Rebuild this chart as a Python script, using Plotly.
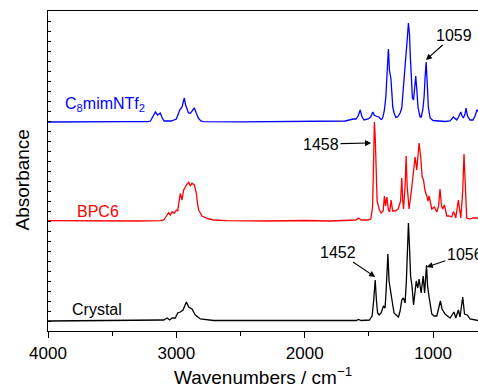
import plotly.graph_objects as go

# ---------------- data ----------------
series_names = ["Crystal", "BPC6", "C<sub>8</sub>mimNTf<sub>2</sub>"]
series_colors = ["#000000", "#ff0000", "#0000ff"]
offsets = [0.0, 1.00, 1.99]

wn_c8 = [4000, 3700, 3646, 3600, 3470, 3436, 3400, 3220, 3202, 3185, 3163, 3146, 3125, 3110, 3095,
         3040, 3000, 2974, 2956, 2946, 2938, 2928, 2905, 2891, 2875, 2860, 2845, 2829, 2810, 2790,
         2500, 2000, 1700, 1685, 1623, 1600, 1584, 1568, 1553, 1537, 1506, 1486, 1469, 1459, 1447,
         1436, 1422, 1409, 1400, 1391, 1379, 1368, 1360, 1348, 1340, 1329, 1321, 1314, 1304, 1290,
         1276, 1264, 1257, 1244, 1234, 1223, 1210, 1200, 1192, 1184, 1177, 1169, 1161, 1152, 1144,
         1135, 1127, 1117, 1101, 1093, 1080, 1070, 1062, 1054, 1044, 1037, 1023, 1000, 907, 868,
         842, 829, 816, 802, 784, 774, 764, 751, 743, 732, 712, 689, 673, 658, 634]
ab_c8 = [0, 0.002, 0.008, 0.002, 0.003, 0.008, 0.003, 0.003, 0.01, 0.05, 0.10, 0.07, 0.09, 0.04, 0.01,
         0.01, 0.03, 0.12, 0.15, 0.20, 0.24, 0.17, 0.09, 0.087, 0.11, 0.14, 0.09, 0.04, 0.01, 0.003,
         0.002, 0.003, 0.005, 0.01, 0.03, 0.03, 0.06, 0.12, 0.05, 0.02, 0.03, 0.05, 0.10, 0.07, 0.06,
         0.055, 0.05, 0.03, 0.025, 0.05, 0.12, 0.25, 0.45, 0.73, 0.52, 0.44, 0.29, 0.15, 0.09, 0.045,
         0.05, 0.08, 0.09, 0.14, 0.30, 0.45, 0.60, 0.85, 0.99, 0.88, 0.65, 0.40, 0.24, 0.22, 0.33,
         0.46, 0.33, 0.14, 0.05, 0.05, 0.12, 0.25, 0.45, 0.60, 0.35, 0.15, 0.04, 0.015, 0.005, 0.01,
         0.05, 0.03, 0.02, 0.05, 0.10, 0.06, 0.04, 0.08, 0.14, 0.06, 0.02, 0.02, 0.06, 0.12, 0.10]

wn_bpc6 = [4000, 3700, 3500, 3300, 3120, 3099, 3072, 3060, 3047, 3033, 3016, 3000, 2990, 2969, 2956,
           2943, 2922, 2904, 2891, 2878, 2860, 2844, 2834, 2826, 2800, 2761, 2710, 2605, 2300, 2000,
           1800, 1620, 1600, 1581, 1560, 1506, 1485, 1471, 1467, 1462, 1457, 1451, 1445, 1436, 1418,
           1405, 1389, 1379, 1370, 1360, 1348, 1338, 1327, 1315, 1296, 1272, 1253, 1244, 1236, 1230,
           1218, 1210, 1202, 1187, 1171, 1156, 1140, 1127, 1109, 1096, 1086, 1075, 1062, 1049, 1039,
           1031, 1019, 1010, 990, 971, 957, 946, 934, 925, 912, 893, 875, 855, 842, 834,
           823, 803, 784, 769, 759, 748, 738, 712, 689, 655, 634]
ab_bpc6 = [0.003, 0.0, 0.004, 0.0, 0.003, 0.01, 0.06, 0.083, 0.06, 0.093, 0.077, 0.11, 0.103, 0.277, 0.21,
           0.31, 0.36, 0.387, 0.35, 0.377, 0.36, 0.277, 0.16, 0.11, 0.05, 0.027, 0.01, 0.003, 0.0, 0.005,
           0.0, 0.005, 0.01, 0.03, 0.01, 0.01, 0.02, 0.15, 0.40, 0.80, 0.99, 0.85, 0.45, 0.20, 0.11,
           0.08, 0.10, 0.25, 0.15, 0.24, 0.11, 0.09, 0.21, 0.10, 0.10, 0.12, 0.20, 0.43, 0.20, 0.12,
           0.35, 0.65, 0.35, 0.12, 0.28, 0.44, 0.64, 0.51, 0.78, 0.64, 0.45, 0.41, 0.30, 0.25, 0.20,
           0.25, 0.15, 0.12, 0.14, 0.09, 0.15, 0.32, 0.15, 0.12, 0.16, 0.05, 0.05, 0.04, 0.09, 0.08,
           0.03, 0.21, 0.03, 0.30, 0.67, 0.30, 0.03, 0.02, 0.03, 0.03, 0.03]

wn_cry = [4000, 3500, 3120, 3099, 3072, 3052, 3033, 3008, 2990, 2969, 2948, 2938, 2922, 2904, 2878,
          2852, 2813, 2710, 2000, 1600, 1581, 1560, 1496, 1475, 1463, 1451, 1441, 1432, 1420, 1405,
          1387, 1374, 1366, 1352, 1343, 1331, 1319, 1304, 1284, 1270, 1257, 1244, 1231, 1218, 1208,
          1200, 1192, 1184, 1175, 1165, 1152, 1131, 1119, 1109, 1093, 1077, 1066, 1051, 1043, 1031,
          1010, 992, 971, 943, 930, 907, 868, 837, 823, 803, 790, 769, 755, 733, 712,
          650, 634]
ab_cry = [0, 0.002, 0.003, 0.01, 0.03, 0.01, 0.03, 0.03, 0.08, 0.09, 0.11, 0.14, 0.19, 0.14, 0.12,
          0.06, 0.02, 0.005, 0.003, 0.005, 0.015, 0.005, 0.01, 0.05, 0.20, 0.41, 0.20, 0.08, 0.06, 0.08,
          0.15, 0.13, 0.30, 0.67, 0.40, 0.28, 0.20, 0.08, 0.05, 0.04, 0.10, 0.21, 0.23, 0.18, 0.40,
          0.80, 0.98, 0.75, 0.45, 0.36, 0.16, 0.40, 0.33, 0.42, 0.28, 0.45, 0.28, 0.56, 0.35, 0.24,
          0.07, 0.05, 0.05, 0.20, 0.12, 0.07, 0.03, 0.09, 0.03, 0.11, 0.04, 0.24, 0.07, 0.06, 0.02,
          0.005, 0.005]

peak_labels = ["1059", "1458", "1452", "1056"]
peak_wn = [1056, 1483, 1451, 1049]
peak_abs = [2.61, 1.78, 0.44, 0.54]

x_ticks = [4000, 3000, 2000, 1000]

# ---------------- figure ----------------
FONT = "Arial, Liberation Sans, Helvetica, sans-serif"
fig = go.Figure()

all_wn = [wn_cry, wn_bpc6, wn_c8]
all_ab = [ab_cry, ab_bpc6, ab_c8]
for name, col, off, wn, ab in zip(series_names, series_colors, offsets, all_wn, all_ab):
    fig.add_trace(go.Scatter(
        x=wn, y=[v + off for v in ab], mode="lines", name=name,
        line=dict(color=col, width=1.3), showlegend=False, hoverinfo="skip"))

# series labels
label_pos = [(3825, 0.115), (3786, 1.10), (3887, 2.17)]
for name, col, (lx, ly) in zip(series_names, series_colors, label_pos):
    fig.add_annotation(x=lx, y=ly, xref="x", yref="y", text=name, showarrow=False,
                       xanchor="left", yanchor="middle",
                       font=dict(family=FONT, size=16, color=col))

# peak annotations with arrows
arrow_offsets = [(28, -25), (-50, 1), (-37, -25), (38, -13)]
for lab, px, py, (axo, ayo) in zip(peak_labels, peak_wn, peak_abs, arrow_offsets):
    fig.add_annotation(x=px, y=py, xref="x", yref="y", text=lab, showarrow=True,
                       ax=axo, ay=ayo, arrowhead=2, arrowsize=1.1, arrowwidth=1.1,
                       arrowcolor="black", font=dict(family=FONT, size=16, color="black"))

# axis titles
fig.add_annotation(x=0, y=0.472, xref="paper", yref="paper", xshift=-25.5,
                   text="Absorbance", textangle=-90, showarrow=False,
                   xanchor="center", yanchor="middle",
                   font=dict(family=FONT, size=19, color="black"))
fig.add_annotation(x=0.5, y=-0.14, xref="paper", yref="paper",
                   text="Wavenumbers / cm<sup>−1</sup>", showarrow=False,
                   xanchor="center", yanchor="middle",
                   font=dict(family=FONT, size=19, color="black"))

fig.update_layout(
    width=478, height=386,
    margin=dict(l=48, r=0, t=11, b=55),
    paper_bgcolor="white", plot_bgcolor="white",
    font=dict(family=FONT, size=17, color="black"),
    xaxis=dict(range=[4000, 650], tickvals=x_ticks, ticktext=[str(t) for t in x_ticks],
               ticks="outside", ticklen=6, tickwidth=1.2, tickcolor="black",
               minor=dict(tickvals=[3500, 2500, 1500], ticks="outside", ticklen=4,
                          tickwidth=1.2, tickcolor="black"),
               showline=True, linecolor="black", linewidth=1.3, mirror=True,
               showgrid=False, zeroline=False,
               tickfont=dict(family=FONT, size=17, color="black")),
    yaxis=dict(range=[-0.10, 3.10], dtick=0.1, tick0=0, ticks="inside", ticklen=3,
               tickwidth=1, tickcolor="black", showticklabels=False,
               showline=True, linecolor="black", linewidth=1.3,
               showgrid=False, zeroline=False),
)

fig.write_html("out.html", config={"displayModeBar": False},
               post_script="document.body.style.margin='0';document.body.style.padding='0';")
